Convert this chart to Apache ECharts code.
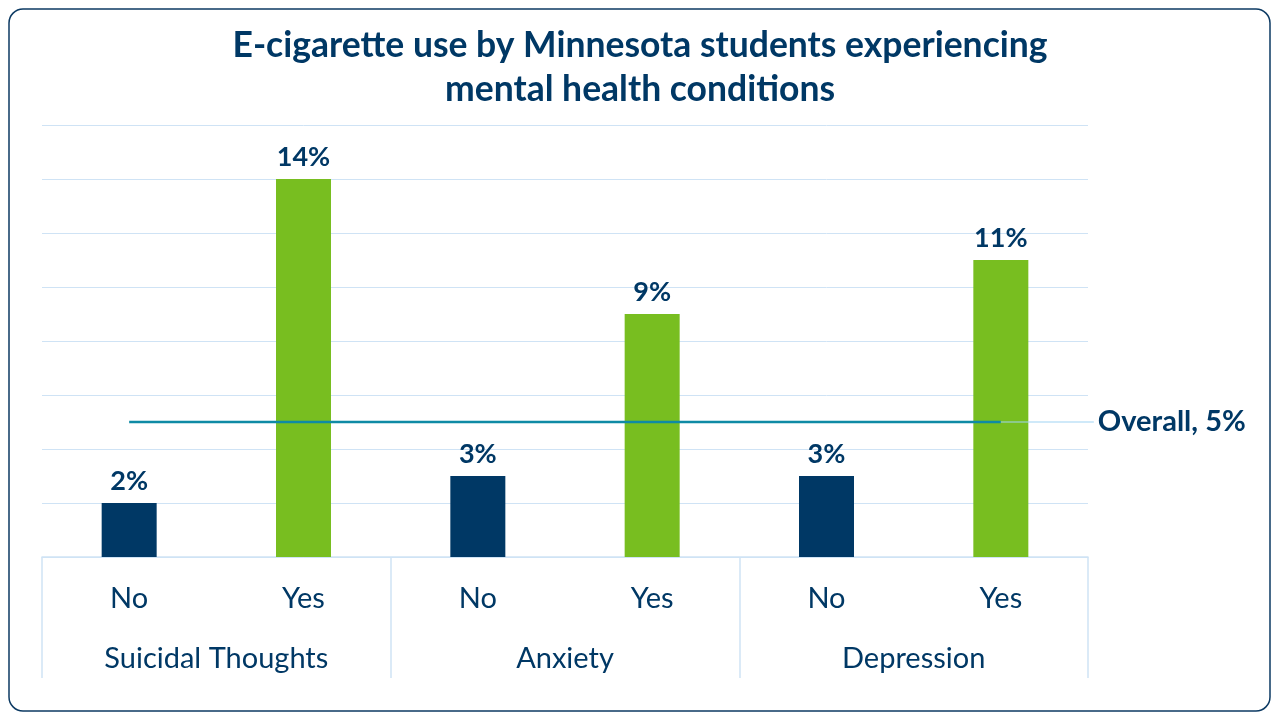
<!DOCTYPE html>
<html>
<head>
<meta charset="utf-8">
<script src="https://cdn.jsdelivr.net/npm/echarts@6/dist/echarts.min.js"></script>
<style>
  html, body { margin: 0; padding: 0; background: #fff; }
  #chart { width: 1280px; height: 720px; }
</style>
</head>
<body>
<div id="chart"></div>
<script>
var answers = ['No', 'Yes', 'No', 'Yes', 'No', 'Yes'];
var groups = ['Suicidal Thoughts', 'Anxiety', 'Depression'];
var useRates = [2, 14, 3, 9, 3, 11];
var overallRate = 5;

var navy = '#003865';
var green = '#78be20';
var gridBlue = '#cfe3f5';
var font = 'Lato';

var setChart = function() {
	var barData = useRates.map(function(v, i) {
		return { value: v, itemStyle: { color: answers[i] === 'Yes' ? green : navy } };
	});
	var overallData = answers.map(function() { return overallRate; });

	var option = {
		textStyle: { fontFamily: font },
		title: {
			text: 'E-cigarette use by Minnesota students experiencing\nmental health conditions',
			left: 'center',
			top: 19,
			textStyle: { color: navy, fontSize: 35.5, fontWeight: 'bold', lineHeight: 44, fontFamily: font }
		},
		graphic: [{
			type: 'rect',
			shape: { x: 9, y: 9, width: 1261, height: 702, r: 14 },
			style: { fill: 'none', stroke: '#0c3a63', lineWidth: 1.5 },
			silent: true
		}],
		grid: { left: 42, right: 192, top: 125, bottom: 163 },
		xAxis: [{
			type: 'category',
			data: answers,
			position: 'bottom',
			axisLine: { lineStyle: { color: gridBlue, width: 1.5 } },
			axisTick: { show: false },
			axisLabel: { color: navy, fontSize: 29, margin: 27, fontFamily: font }
		}, {
			type: 'category',
			data: groups,
			position: 'bottom',
			axisLine: { show: false },
			axisTick: { show: true, length: 121, lineStyle: { color: gridBlue, width: 1.5 } },
			axisLabel: { color: navy, fontSize: 29, margin: 87, fontFamily: font }
		}],
		yAxis: {
			type: 'value',
			min: 0,
			max: 16,
			interval: 2,
			axisLabel: { show: false },
			axisLine: { show: false },
			axisTick: { show: false },
			splitLine: { lineStyle: { color: gridBlue, width: 1 } }
		},
		series: [{
			type: 'bar',
			xAxisIndex: 0,
			barWidth: 55,
			data: barData,
			label: {
				show: true,
				position: 'top',
				distance: 8,
				formatter: '{c}%',
				color: navy,
				fontSize: 27,
				fontWeight: 'bold',
				fontFamily: font
			},
			z: 2
		}, {
			type: 'line',
			xAxisIndex: 0,
			data: overallData,
			symbol: 'none',
			lineStyle: { color: '#0f8aa5', width: 2.5 },
			z: 3,
			endLabel: {
				show: true,
				distance: 0,
				formatter: '{lead|}{t|Overall, ' + overallRate + '%}',
				rich: {
					lead: { width: 93, height: 1, backgroundColor: '#9fd3f3' },
					t: { color: navy, fontSize: 29, fontWeight: 'bold', fontFamily: font, padding: [0, 0, 0, 4] }
				}
			}
		}]
	};
	var myChart = echarts.init(document.getElementById('chart'));
	myChart.setOption(option);
};
setChart();
</script>
</body>
</html>
